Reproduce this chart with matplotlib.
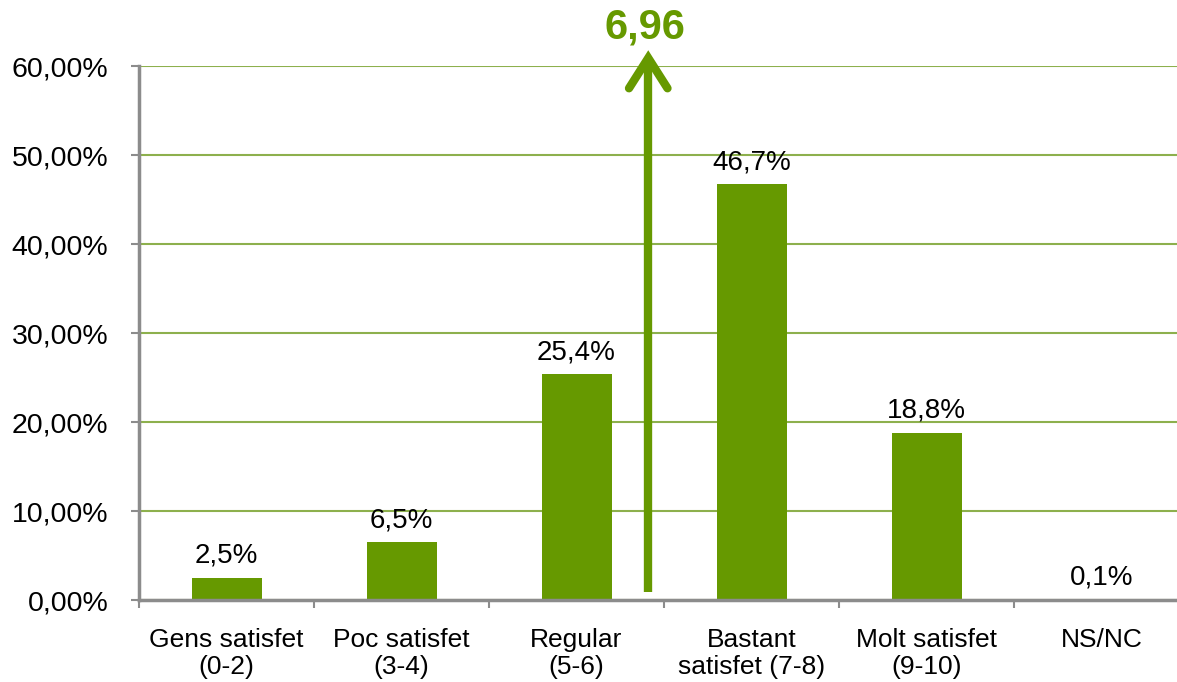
import numpy as np
import matplotlib.pyplot as plt

plt.rcParams['font.family'] = ['Liberation Sans', 'DejaVu Sans']

categories = ["Gens satisfet\n(0-2)", "Poc satisfet\n(3-4)", "Regular\n(5-6)",
              "Bastant\nsatisfet (7-8)", "Molt satisfet\n(9-10)", "NS/NC"]
values = [2.5, 6.5, 25.4, 46.7, 18.8, 0.1]
value_labels = ["2,5%", "6,5%", "25,4%", "46,7%", "18,8%", "0,1%"]
mean_label = "6,96"
mean_pos = 2.41
yticks = [0, 10, 20, 30, 40, 50, 60]
ytick_labels = ["0,00%", "10,00%", "20,00%", "30,00%", "40,00%", "50,00%", "60,00%"]

green = "#669900"
grid_green = "#8DB04D"
grey = "#8C8C8C"

fig = plt.figure(figsize=(11.77, 6.82), dpi=100)
ax = fig.add_axes([139 / 1177, 0.1202, 1 - 139 / 1177, 0.783])

x = np.arange(len(categories))
ax.bar(x, values, width=0.40, color=green, zorder=3)

for xi, v, lab in zip(x, values, value_labels):
    ax.text(xi, v + 1.0, lab, ha="center", va="bottom", fontsize=20, color="black", zorder=4)

ax.set_yticks(yticks)
ax.set_yticklabels(ytick_labels, fontsize=20.5)
ax.set_xticks(x)
ax.set_xticklabels(categories, fontsize=19, linespacing=1.15)
ax.set_xticks(np.arange(-0.5, 6, 1), minor=True)
# set limits after ticks, set_ticks can widen the view
ax.set_xlim(-0.5, -0.5 + (1177 - 139) / 175)
ax.set_ylim(0, 60)
ax.tick_params(axis="x", which="major", length=0, pad=20)
ax.tick_params(axis="x", which="minor", length=6, width=1.5, color=grey, direction="out")
ax.tick_params(axis="y", length=6, width=1.5, color=grey, direction="out", pad=16)

ax.yaxis.grid(True, color=grid_green, linewidth=1.5, zorder=0)
for s in ["top", "right"]:
    ax.spines[s].set_visible(False)
for s in ["left", "bottom"]:
    ax.spines[s].set_color(grey)
    ax.spines[s].set_linewidth(2.5)
    ax.spines[s].set_zorder(5)

# arrow marking the mean
ax.plot([mean_pos, mean_pos], [0.9, 60.6], color=green, lw=6, solid_capstyle="butt",
        zorder=4, clip_on=False)
ax.plot([mean_pos - 0.11, mean_pos, mean_pos + 0.11], [57.5, 60.9, 57.5], color=green, lw=6,
        solid_capstyle="round", solid_joinstyle="miter", zorder=4, clip_on=False)
ax.text(mean_pos - 0.02, 63.1, mean_label, ha="center", va="baseline", fontsize=30,
        fontweight="bold", color=green, clip_on=False)

fig.savefig("out.png", dpi=100)
